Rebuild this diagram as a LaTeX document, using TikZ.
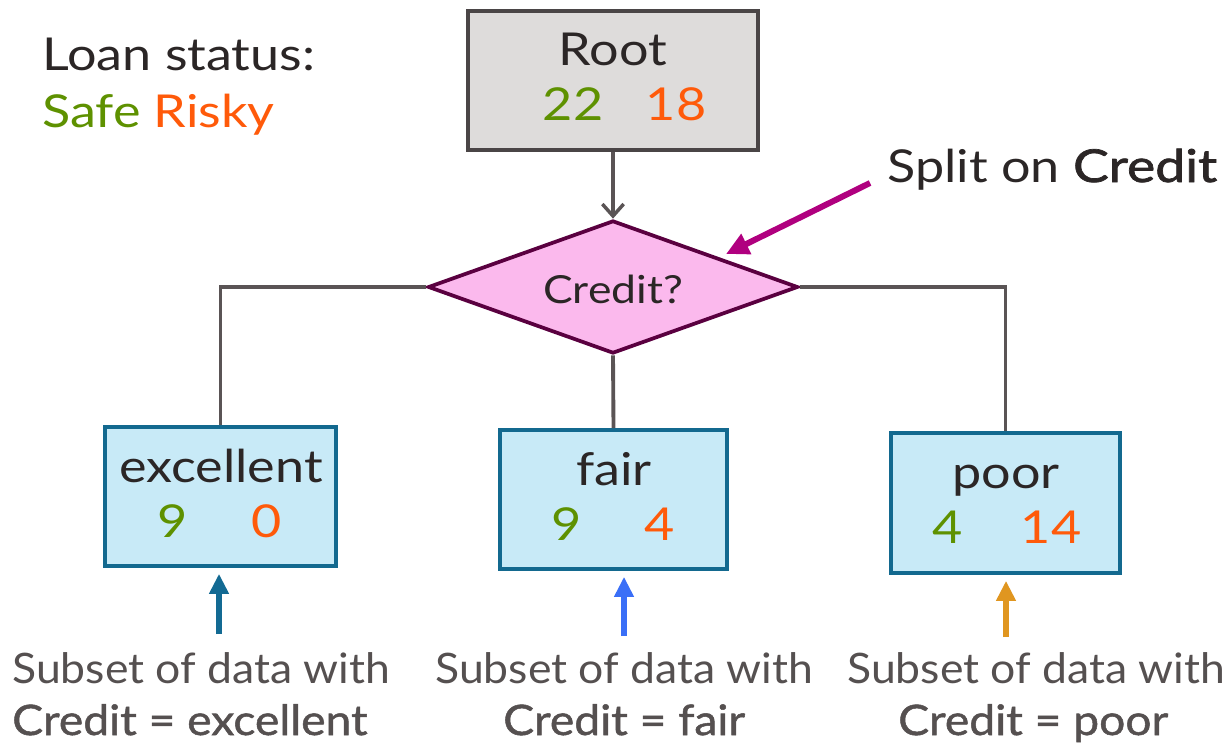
\documentclass[tikz,border=0pt]{standalone}
\usepackage{fontspec}
\setmainfont{Lato}
\newfontfamily\widef{Lato}[FakeStretch=1.15]
\newfontfamily\widefM{Lato}[FakeStretch=1.18, FakeBold=1.6]
\newfontfamily\subf{Lato}[FakeStretch=1.06]
\newfontfamily\subfM{Lato}[FakeStretch=1.1, FakeBold=1.2]
\usetikzlibrary{shapes.geometric,arrows.meta}
\definecolor{txt}{HTML}{2B2626}
\definecolor{subtxt}{HTML}{555050}
\definecolor{safe}{HTML}{5E9100}
\definecolor{risky}{HTML}{FF5A0A}
\definecolor{rootfill}{HTML}{DEDCDB}
\definecolor{rootdraw}{HTML}{4A4546}
\definecolor{leaffill}{HTML}{C8EAF7}
\definecolor{leafdraw}{HTML}{13698F}
\definecolor{diafill}{HTML}{FBB9ED}
\definecolor{diadraw}{HTML}{5A0040}
\definecolor{connc}{HTML}{5A5455}
\definecolor{mag}{HTML}{B0007F}
\definecolor{arrE}{HTML}{136A93}
\definecolor{arrF}{HTML}{3A6FF7}
\definecolor{arrP}{HTML}{E09620}
\tikzset{
  big/.style={font=\widef\fontsize{34}{40}\selectfont, text=txt, inner sep=0pt, anchor=base},
  num/.style={font=\widef\fontsize{34}{40}\selectfont, inner sep=0pt, anchor=base},
  sub/.style={font=\subf\fontsize{31.5}{36}\selectfont, text=subtxt, inner sep=0pt, anchor=base west},
  subm/.style={font=\subfM\fontsize{31.5}{36}\selectfont, text=subtxt, inner sep=0pt, anchor=base west},
  rootbox/.style={draw=rootdraw, fill=rootfill, line width=2.7pt, rectangle, inner sep=0pt},
  leafbox/.style={draw=leafdraw, fill=leaffill, line width=2.7pt, rectangle, inner sep=0pt},
  diam/.style={diamond, draw=diadraw, fill=diafill, line width=2.8pt, inner sep=0pt,
     minimum width=277.5pt, minimum height=99.75pt},
  conn/.style={draw=connc, line width=2.9pt},
  uparrow/.style={line width=4.5pt, -{Triangle[length=15pt,width=14pt]}, shorten >=4.5pt},
}
\begin{document}
\begin{tikzpicture}[x=0.75pt,y=-0.75pt]
\useasboundingbox (0,0) rectangle (1230,747);
% boxes
\node[rootbox, minimum width=217.5pt, minimum height=104.25pt] (root) at (613,80.5) {};
\node[diam] (dia) at (613,287) {};
\node[leafbox, minimum width=173.25pt, minimum height=104.25pt] (exc) at (220.5,496.5) {};
\node[leafbox, minimum width=170.25pt, minimum height=104.25pt] (fair) at (613.5,499.5) {};
\node[leafbox, minimum width=171.75pt, minimum height=105pt] (poor) at (1005.5,503) {};
% texts in boxes
\node[big] (rootlbl) at (613,65) {Root};
\node[num, text=safe] (rootS) at (573,120) {22};
\node[num, text=risky] (rootR) at (676,120) {18};
\node[font=\widef\fontsize{29}{34}\selectfont, text=txt, inner sep=0pt] (dialbl) at (613,289) {Credit?};
\node[big] (exclbl) at (221,482) {excellent};
\node[num, text=safe] (excS) at (173,537) {9};
\node[num, text=risky] (excR) at (267,537) {0};
\node[big] (fairlbl) at (614,485) {fair};
\node[num, text=safe] (fairS) at (567,540) {9};
\node[num, text=risky] (fairR) at (660,540) {4};
\node[big] (poorlbl) at (1006,488) {poor};
\node[num, text=safe] (poorS) at (948,543) {4};
\node[num, text=risky] (poorR) at (1051,543) {14};
% connectors
\draw[conn, -{Straight Barb[length=9pt,width=16pt,line width=2.6pt]}] (root.south) -- (dia.north);
\draw[conn] (dia.west) -| (exc.north);
\draw[conn] (dia.south) -- (fair.north);
\draw[conn] (dia.east) -| (poor.north);
% legend
\node[big, anchor=base west] (loan) at (42,70) {Loan status:};
\node[big, anchor=base west] (legend) at (42,127) {\textcolor{safe}{Safe} \textcolor{risky}{Risky}};
% split annotation
\node[big, anchor=base west] (split) at (887,182) {Split on {\widefM Credit}};
\coordinate (sa) at (870,183);
\coordinate (st) at (726,254);
\draw[draw=mag, line width=4.5pt, -{Triangle[length=17pt,width=16pt]}] (sa) -- (st);
% bottom arrows
\coordinate (ea) at (219,634);
\coordinate (fa) at (624,636);
\coordinate (pa) at (1006,637);
\draw[uparrow, draw=arrE] (ea) -- (ea |- exc.south);
\draw[uparrow, draw=arrF] (fa) -- (fa |- fair.south);
\draw[uparrow, draw=arrP] (pa) -- (pa |- poor.south);
% bottom texts
\node[sub] (e1) at (12,683) {Subset of data with};
\node[subm] (e2) at (12,735) {Credit = excellent};
\node[sub] (f1) at (435,683) {Subset of data with};
\node[subm] (f2) at (503,735) {Credit = fair};
\node[sub] (p1) at (847,683) {Subset of data with};
\node[subm] (p2) at (898,735) {Credit = poor};
\end{tikzpicture}
\end{document}
